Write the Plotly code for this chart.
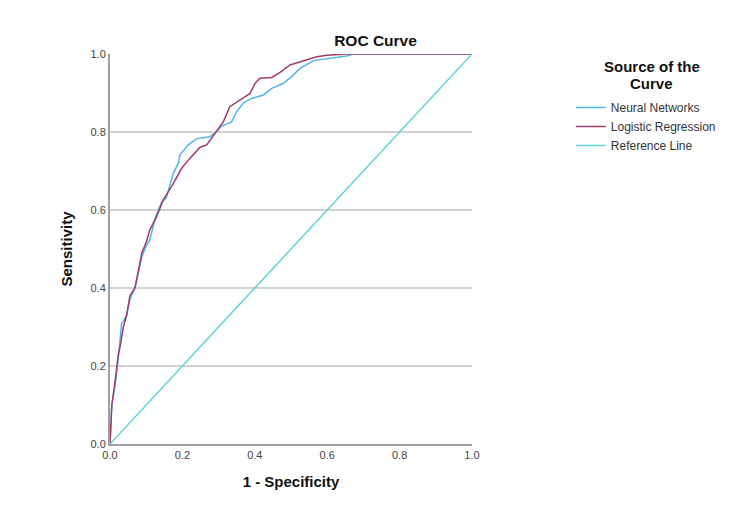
import plotly.graph_objects as go

# ROC curve points
nn_fpr = [0, 0.005, 0.014, 0.023, 0.032, 0.037, 0.046, 0.055, 0.069, 0.078, 0.088, 0.101, 0.11,
          0.125, 0.143, 0.155, 0.166, 0.175, 0.189, 0.193, 0.216, 0.24, 0.276, 0.29, 0.308, 0.336,
          0.35, 0.368, 0.391, 0.424, 0.447, 0.479, 0.502, 0.525, 0.562, 0.608, 0.654, 0.672, 1.0]
nn_tpr = [0, 0.1, 0.15, 0.22, 0.31, 0.315, 0.33, 0.37, 0.40, 0.44, 0.48, 0.51, 0.523,
          0.58, 0.621, 0.63, 0.668, 0.694, 0.72, 0.741, 0.767, 0.783, 0.788, 0.797, 0.815, 0.826,
          0.852, 0.874, 0.886, 0.895, 0.912, 0.925, 0.942, 0.963, 0.983, 0.989, 0.995, 1.0, 1.0]

lr_fpr = [0, 0.005, 0.014, 0.023, 0.028, 0.037, 0.046, 0.055, 0.069, 0.078, 0.088, 0.101, 0.11,
          0.129, 0.147, 0.17, 0.198, 0.221, 0.249, 0.267, 0.29, 0.313, 0.331, 0.359, 0.387, 0.401,
          0.414, 0.447, 0.47, 0.497, 0.543, 0.571, 0.599, 0.654, 1.0]
lr_tpr = [0, 0.1, 0.16, 0.23, 0.25, 0.30, 0.33, 0.38, 0.40, 0.44, 0.49, 0.52, 0.549,
          0.583, 0.626, 0.66, 0.707, 0.733, 0.761, 0.767, 0.797, 0.826, 0.865, 0.882, 0.899, 0.925,
          0.938, 0.94, 0.953, 0.972, 0.985, 0.993, 0.997, 1.0, 1.0]

ref_x = [0, 1]
ref_y = [0, 1]

legend_title = ['Source of the', 'Curve']

font = "Liberation Sans, Arial, sans-serif"

fig = go.Figure()

fig.add_trace(go.Scatter(x=nn_fpr, y=nn_tpr, mode='lines', name='Neural Networks',
                         line=dict(color='#4fb6e8', width=1.5)))
fig.add_trace(go.Scatter(x=lr_fpr, y=lr_tpr, mode='lines', name='Logistic Regression',
                         line=dict(color='#a03c6c', width=1.5)))
fig.add_trace(go.Scatter(x=ref_x, y=ref_y, mode='lines', name='Reference Line',
                         line=dict(color='#62d4da', width=1.5)))

# legend title as two centred lines (tighter spacing than the built-in title)
for i, txt in enumerate(legend_title):
    fig.add_annotation(text='<b>%s</b>' % txt, xref='paper', yref='paper',
                       x=1.497, y=0.969 - i * 0.044, xanchor='center', yanchor='middle',
                       showarrow=False, font=dict(size=15, color='#111111'))

fig.update_layout(
    width=750, height=524,
    margin=dict(l=102, r=286, t=46, b=88),
    paper_bgcolor='white', plot_bgcolor='white',
    font=dict(family=font, color='#333333'),
    title=dict(text='<b>ROC Curve</b>', x=0.49, xanchor='center', y=0.937, yanchor='middle',
               font=dict(size=15.5, color='#111111')),
    legend=dict(
        x=1.273, y=0.9, xanchor='left', yanchor='top',
        font=dict(size=12, color='#333333'),
        tracegroupgap=0, itemwidth=30,
    ),
    xaxis=dict(
        range=[0, 1], dtick=0.2, tickformat='.1f', showgrid=False, zeroline=False,
        showline=True, linecolor='#a0a0a0', linewidth=2,
        tickfont=dict(size=11, color='#444444'),
        title=dict(text='<b>1 - Specificity</b>', font=dict(size=15, color='#111111'), standoff=16),
    ),
    yaxis=dict(
        range=[0, 1], dtick=0.2, tickformat='.1f', showgrid=True, gridcolor='#d2d2d2',
        gridwidth=1.5, zeroline=False,
        showline=True, linecolor='#a0a0a0', linewidth=2,
        tickfont=dict(size=11, color='#444444'),
        title=dict(text='<b>Sensitivity</b>', font=dict(size=15, color='#111111'), standoff=14),
    ),
)

fig.write_html("out.html")
